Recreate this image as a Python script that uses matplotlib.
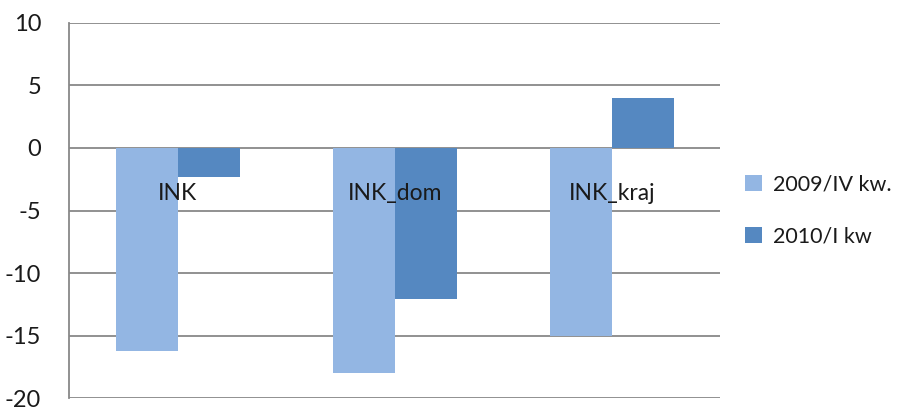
import numpy as np
import matplotlib.pyplot as plt

categories = ["INK", "INK_dom", "INK_kraj"]
series_names = ["2009/IV kw.", "2010/I kw"]
q4_2009 = [-16.2, -18.0, -15.0]
q1_2010 = [-2.3, -12.1, 4.0]

colors = ["#93B6E3", "#5588C1"]
grid_color = "#888888"

plt.rcParams["font.family"] = ["Lato", "DejaVu Sans"]
plt.rcParams["axes.unicode_minus"] = False

fig = plt.figure(figsize=(9.13, 4.07), dpi=100)
ax = fig.add_axes([0.0756, 0.0221, 0.7134, 0.9214])

x = np.arange(len(categories))
w = 1 / 3.5
ax.bar(x - w / 2, q4_2009, w, color=colors[0], label=series_names[0], zorder=2)
ax.bar(x + w / 2, q1_2010, w, color=colors[1], label=series_names[1], zorder=2)

ax.set_xlim(-0.5, len(categories) - 0.5)
ax.set_ylim(-20, 10)
ax.set_yticks(np.arange(-20, 11, 5))
ax.set_xticks([])
ax.yaxis.grid(True, color=grid_color, linewidth=1.3, zorder=1)
ax.set_axisbelow(True)

for s in ["top", "right", "bottom"]:
    ax.spines[s].set_visible(False)
ax.spines["left"].set_color(grid_color)
ax.spines["left"].set_linewidth(1.3)
ax.tick_params(axis="y", length=0, pad=20, labelsize=17, labelcolor="#1a1a1a")

# category labels sit just below the zero line, as in the original
for xi, name in zip(x, categories):
    ax.annotate(name, (xi, 0), xytext=(0, -25), textcoords="offset points",
                ha="center", va="top", fontsize=16.5, color="#1a1a1a", zorder=3)

ax.legend(loc="center left", bbox_to_anchor=(1.025, 0.50), frameon=False,
          fontsize=15.5, handlelength=0.8, handleheight=0.8, handletextpad=0.5,
          labelspacing=1.5, labelcolor="#1a1a1a", borderaxespad=0)

fig.savefig("out.png", dpi=100)
